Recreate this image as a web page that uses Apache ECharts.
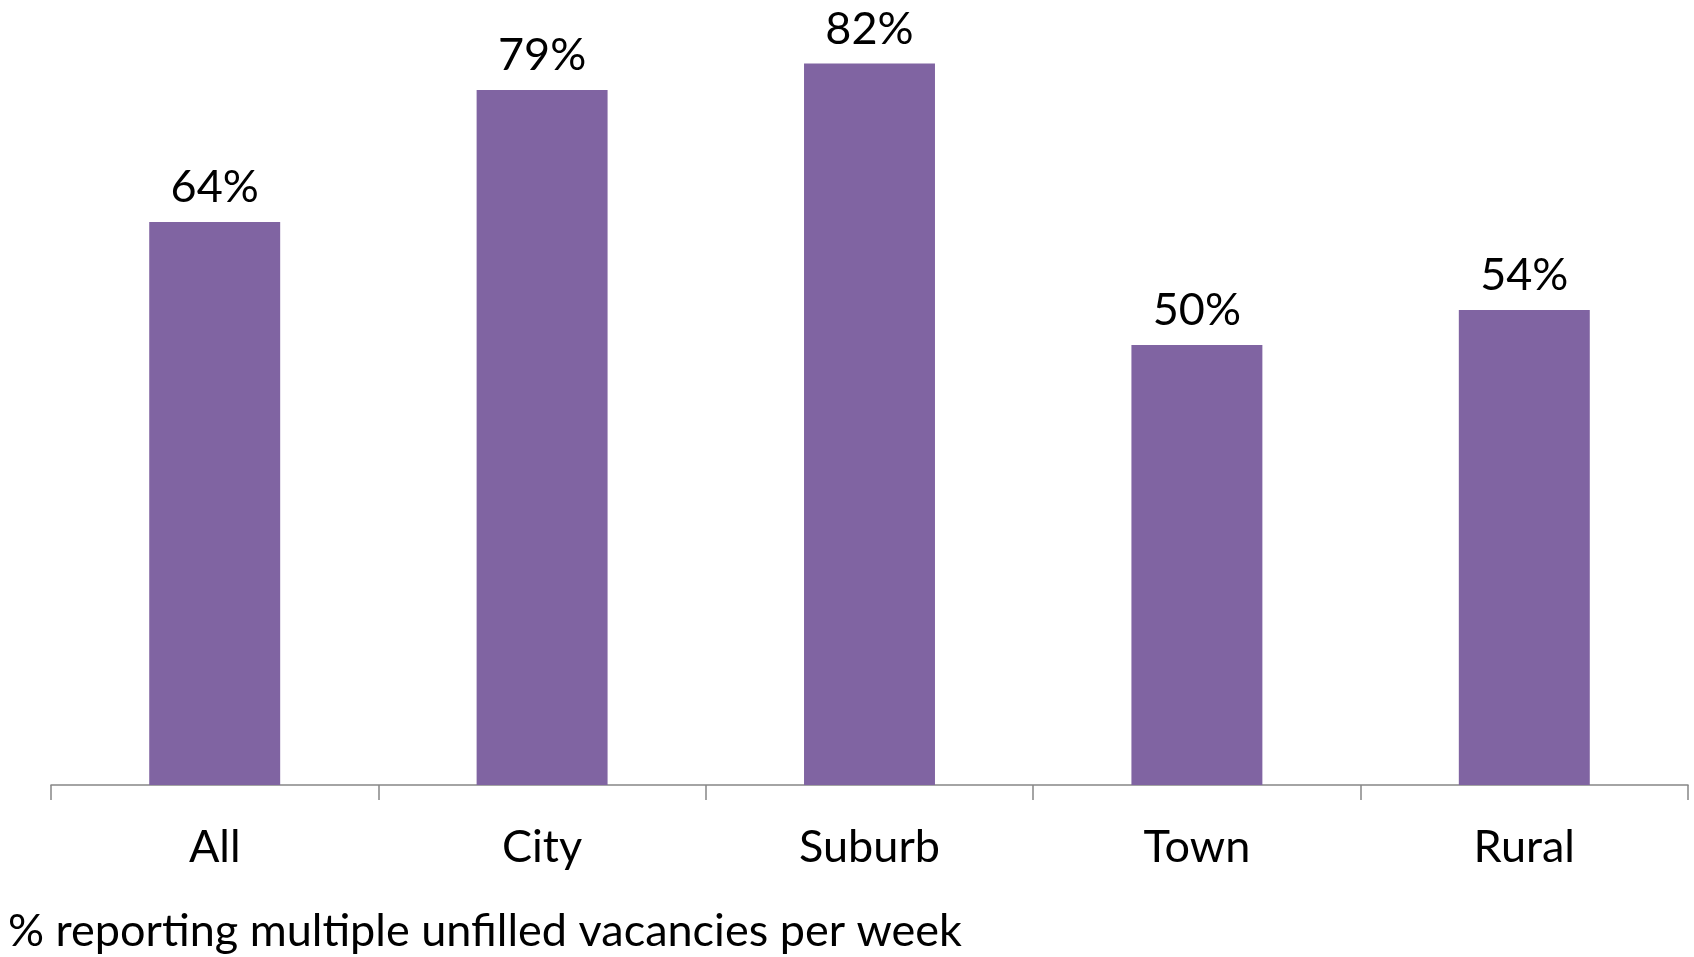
<!DOCTYPE html>
<html>
<head>
<meta charset="utf-8">
<script src="https://cdn.jsdelivr.net/npm/echarts@6/dist/echarts.min.js"></script>
<style>
  html, body { margin: 0; padding: 0; background: #fff; }
  #chart { width: 1694px; height: 957px; }
</style>
</head>
<body>
<div id="chart"></div>
<script>
// data
const categories = ['All', 'City', 'Suburb', 'Town', 'Rural'];
const shares = [64, 79, 82, 50, 54];
const footnote = '% reporting multiple unfilled vacancies per week';

const font = 'Lato, "Open Sans", sans-serif';

const chart = echarts.init(document.getElementById('chart'));

chart.setOption({
  animation: false,
  grid: {
    left: 51,
    right: 6,
    top: 2,
    bottom: 172,
    containLabel: false
  },
  xAxis: {
    type: 'category',
    data: categories,
    boundaryGap: true,
    axisLine: { show: true, lineStyle: { color: '#868686', width: 1.5 } },
    axisTick: { show: true, interval: 0, length: 15, lineStyle: { color: '#868686', width: 1.5 } },
    axisLabel: {
      color: '#000',
      fontFamily: font,
      fontSize: 45,
      margin: 40
    }
  },
  yAxis: {
    type: 'value',
    min: 0,
    max: 89,
    show: false,
    splitLine: { show: false }
  },
  series: [{
    type: 'bar',
    data: shares,
    barCategoryGap: '60%',
    itemStyle: { color: '#8064A2' },
    label: {
      show: true,
      position: 'top',
      distance: 12,
      color: '#000',
      fontFamily: font,
      fontSize: 45,
      formatter: '{c}%'
    }
  }],
  graphic: [{
    type: 'text',
    left: 8,
    top: 909,
    style: {
      text: footnote,
      fill: '#000',
      font: '45px ' + font
    }
  }]
});
</script>
</body>
</html>
